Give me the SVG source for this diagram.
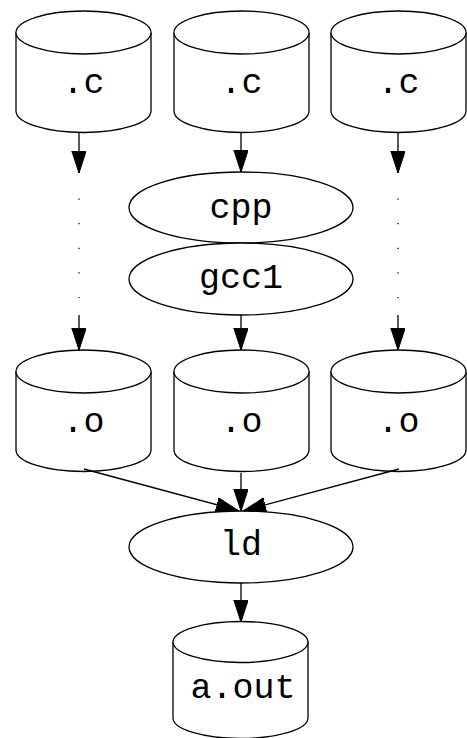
<svg xmlns="http://www.w3.org/2000/svg" width="467" height="738" viewBox="0 0 467 738">
<style>
.shape{fill:#fff;stroke:#000;stroke-width:1.3}
.lbl{font-family:"Liberation Mono","Courier New",monospace;font-size:35px;fill:#000;text-anchor:middle}
.edge{stroke:#000;stroke-width:1.3;fill:none}
.dots{stroke:#000;stroke-width:1.3;fill:none;stroke-dasharray:1.2 23.4}
</style>
<defs>
<marker id="ah" markerUnits="userSpaceOnUse" markerWidth="23" markerHeight="15" refX="22" refY="7.2" orient="auto">
<path d="M0,0 L22,7.2 L0,14.4 z" fill="#000" stroke="#000" stroke-width="1"/>
</marker>
</defs>
<rect width="467" height="738" fill="#fff"/>
<g id="c1">
<path class="shape" d="M16,32.5 A67.5,21.5 0 0 1 151,32.5 L151,111 A67.5,21.5 0 0 1 16,111 Z"/>
<path class="shape" d="M16,32.5 A67.5,21.5 0 0 0 151,32.5" fill="none"/>
<text class="lbl" x="83.5" y="93">.c</text>
</g>
<g id="c2">
<path class="shape" d="M174,32.5 A67.5,21.5 0 0 1 309,32.5 L309,111 A67.5,21.5 0 0 1 174,111 Z"/>
<path class="shape" d="M174,32.5 A67.5,21.5 0 0 0 309,32.5" fill="none"/>
<text class="lbl" x="241.5" y="93">.c</text>
</g>
<g id="c3">
<path class="shape" d="M331,32.5 A67.5,21.5 0 0 1 466,32.5 L466,111 A67.5,21.5 0 0 1 331,111 Z"/>
<path class="shape" d="M331,32.5 A67.5,21.5 0 0 0 466,32.5" fill="none"/>
<text class="lbl" x="398.5" y="93">.c</text>
</g>
<g id="cpp">
<ellipse class="shape" cx="241" cy="207.5" rx="112" ry="35.5"/>
<text class="lbl" x="241" y="218">cpp</text>
</g>
<g id="gcc1">
<ellipse class="shape" cx="241" cy="279" rx="112" ry="36"/>
<text class="lbl" x="241" y="288">gcc1</text>
</g>
<g id="o1">
<path class="shape" d="M16,371.5 A67.5,21.5 0 0 1 151,371.5 L151,450 A67.5,21.5 0 0 1 16,450 Z"/>
<path class="shape" d="M16,371.5 A67.5,21.5 0 0 0 151,371.5" fill="none"/>
<text class="lbl" x="83.5" y="432">.o</text>
</g>
<g id="o2">
<path class="shape" d="M174,371.5 A67.5,21.5 0 0 1 309,371.5 L309,450 A67.5,21.5 0 0 1 174,450 Z"/>
<path class="shape" d="M174,371.5 A67.5,21.5 0 0 0 309,371.5" fill="none"/>
<text class="lbl" x="241.5" y="432">.o</text>
</g>
<g id="o3">
<path class="shape" d="M331,371.5 A67.5,21.5 0 0 1 466,371.5 L466,450 A67.5,21.5 0 0 1 331,450 Z"/>
<path class="shape" d="M331,371.5 A67.5,21.5 0 0 0 466,371.5" fill="none"/>
<text class="lbl" x="398.5" y="432">.o</text>
</g>
<g id="ld">
<ellipse class="shape" cx="241" cy="547" rx="112" ry="36"/>
<text class="lbl" x="241" y="555">ld</text>
</g>
<g id="aout">
<path class="shape" d="M173,642 A67.5,20.5 0 0 1 308,642 L308,718 A67.5,20.5 0 0 1 173,718 Z"/>
<path class="shape" d="M173,642 A67.5,20.5 0 0 0 308,642" fill="none"/>
<text class="lbl" x="243" y="698">a.out</text>
</g>
<g id="edges">
<line class="edge" x1="79" y1="133" x2="79" y2="173" marker-end="url(#ah)"/>
<line class="dots" x1="79" y1="198.5" x2="79" y2="298"/>
<line class="edge" x1="79" y1="315" x2="79" y2="350" marker-end="url(#ah)"/>
<line class="edge" x1="241" y1="133" x2="241" y2="172" marker-end="url(#ah)"/>
<line class="edge" x1="241" y1="315" x2="241" y2="350" marker-end="url(#ah)"/>
<line class="edge" x1="398" y1="133" x2="398" y2="173" marker-end="url(#ah)"/>
<line class="dots" x1="398" y1="198.5" x2="398" y2="298"/>
<line class="edge" x1="398" y1="315" x2="398" y2="350" marker-end="url(#ah)"/>
<line class="edge" x1="84" y1="469" x2="238" y2="510.5" marker-end="url(#ah)"/>
<line class="edge" x1="241" y1="473" x2="241" y2="511" marker-end="url(#ah)"/>
<line class="edge" x1="399" y1="469" x2="244" y2="510.5" marker-end="url(#ah)"/>
<line class="edge" x1="241" y1="583" x2="241" y2="622" marker-end="url(#ah)"/>
</g>
</svg>
